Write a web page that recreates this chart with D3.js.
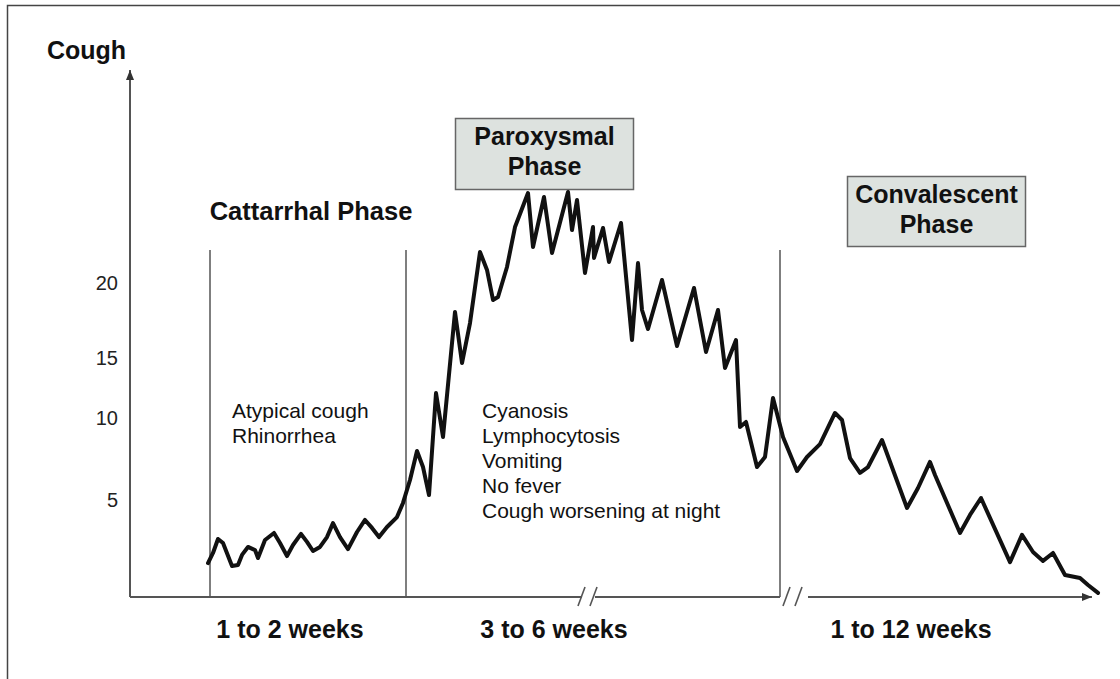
<!DOCTYPE html>
<html>
<head>
<meta charset="utf-8">
<script src="https://cdn.jsdelivr.net/npm/d3@7"></script>
<style>
  body { margin: 0; background: #fff; }
  svg { display: block; font-family: "Liberation Sans", Arial, Helvetica, sans-serif; }
</style>
</head>
<body>
<svg width="1120" height="679"></svg>
<script>
// time in arbitrary units along the (broken) x axis, cough intensity on y
const days = [78, 83, 88, 93, 102, 108, 112, 118, 125, 128, 135, 144, 150, 157, 163, 171, 177, 183, 190, 197,
  203, 210, 218, 227, 235, 242, 249, 257, 267, 273, 280, 287, 293, 299, 306, 313, 325, 332, 340, 350,
  357, 363, 368, 377, 385, 398, 403, 414, 422, 438, 442, 447, 455, 463, 464, 473, 479, 491, 502, 508,
  512, 518, 532, 547, 564, 576, 588, 595, 606, 610, 616, 627, 635, 643, 653, 667, 677, 690, 705, 712,
  720, 730, 738, 752, 777, 788, 800, 805, 830, 840, 851, 880, 892, 903, 913, 923, 935, 950, 958, 968]
const cough = [1.75, 2.27, 2.99, 2.78, 1.6, 1.65, 2.17, 2.58, 2.42, 2.01, 2.94, 3.3, 2.78, 2.11, 2.68, 3.25, 2.84, 2.37, 2.58, 3.09,
  3.81, 3.09, 2.47, 3.35, 3.97, 3.56, 3.09, 3.61, 4.12, 4.85, 6.22, 7.99, 7.01, 5.3, 12.08, 8.84, 18.07, 14.58, 17.33, 22.07,
  20.87, 18.87, 19.07, 21.07, 23.73, 26.0, 22.4, 25.73, 22.0, 26.07, 23.53, 25.53, 20.67, 23.73, 21.67, 23.67, 21.4, 24.0, 16.2, 21.33,
  18.2, 16.93, 20.2, 15.8, 19.67, 15.4, 18.2, 14.17, 16.2, 9.45, 9.76, 7.01, 7.62, 11.67, 8.84, 6.77, 7.62, 8.41, 10.42, 9.88,
  7.56, 6.65, 7.01, 8.66, 4.59, 5.73, 7.32, 6.52, 3.3, 4.23, 5.12, 1.8, 3.2, 2.32, 1.86, 2.27, 1.13, 0.98, 0.62, 0.21]

const yTicks = [5, 10, 15, 20]
const phaseBounds = [80, 276, 650]
const durationLabels = ["1 to 2 weeks", "3 to 6 weeks", "1 to 12 weeks"]
const durationPos = [160, 424, 781]
const breaks = [458, 663]
const symptoms = [
  ["Atypical cough", "Rhinorrhea"],
  ["Cyanosis", "Lymphocytosis", "Vomiting", "No fever", "Cough worsening at night"]
]
const symptomPos = [102, 352]

const svg = d3.select("svg")

// schematic axis: tick spacing is not even in the original, so piecewise scale
const x = d3.scaleLinear().domain([0, 960]).range([130, 1090])
const y = d3.scaleLinear().domain([0, 5, 10, 15, 20, 28]).range([597, 500, 418, 358, 283, 163])

// frame
svg.append("path")
  .attr("d", "M7.5,679 V5.5 H1120")
  .attr("fill", "none")
  .attr("stroke", "#444")
  .attr("stroke-width", 1.5)

// arrow heads
const defs = svg.append("defs")
defs.append("marker")
  .attr("id", "arrow")
  .attr("viewBox", "0 0 10 8")
  .attr("refX", 10).attr("refY", 4)
  .attr("markerWidth", 10).attr("markerHeight", 8)
  .attr("markerUnits", "userSpaceOnUse")
  .attr("orient", "auto")
  .append("path").attr("d", "M0,0 L10,4 L0,8 Z").attr("fill", "#333")

const axisColor = "#555"

// y axis
svg.append("line")
  .attr("x1", x(0)).attr("x2", x(0))
  .attr("y1", y(0)).attr("y2", 70)
  .attr("stroke", axisColor).attr("stroke-width", 2)
  .attr("marker-end", "url(#arrow)")

// x axis in pieces with break marks
const segs = [[0, breaks[0] - 6], [breaks[0] + 7, phaseBounds[2]], [breaks[1] + 15, 962]]
segs.forEach((s, i) => {
  svg.append("line")
    .attr("x1", x(s[0])).attr("x2", x(s[1]))
    .attr("y1", y(0)).attr("y2", y(0))
    .attr("stroke", axisColor).attr("stroke-width", 2)
    .attr("marker-end", i == 2 ? "url(#arrow)" : null)
})
breaks.forEach(b => {
  [0, 12].forEach(o => {
    svg.append("line")
      .attr("x1", x(b) + o - 10).attr("y1", y(0) + 9)
      .attr("x2", x(b) + o - 3).attr("y2", y(0) - 10)
      .attr("stroke", "#555").attr("stroke-width", 1.6)
  })
})

// phase separators
svg.selectAll(".sep")
  .data(phaseBounds)
  .join("line")
  .attr("class", "sep")
  .attr("x1", d => x(d)).attr("x2", d => x(d))
  .attr("y1", y(0)).attr("y2", 250)
  .attr("stroke", "#555").attr("stroke-width", 1.5)

// y tick labels
const yAxis = svg.append("g")
  .attr("transform", `translate(${x(0)},0)`)
  .call(d3.axisLeft(y).tickValues(yTicks).tickSize(0).tickPadding(12))
yAxis.select(".domain").remove()
yAxis.selectAll("text")
  .attr("font-size", 20)
  .attr("font-family", "Liberation Sans, Arial, sans-serif")
  .attr("fill", "#222")

svg.append("text")
  .attr("x", 47).attr("y", 59)
  .attr("font-size", 25).attr("font-weight", "bold")
  .attr("fill", "#111")
  .text("Cough")

// duration labels
svg.selectAll(".dur")
  .data(durationLabels)
  .join("text")
  .attr("class", "dur")
  .attr("x", (d, i) => x(durationPos[i]))
  .attr("y", 638)
  .attr("text-anchor", "middle")
  .attr("font-size", 25).attr("font-weight", "bold")
  .attr("fill", "#111")
  .text(d => d)

// symptoms
symptoms.forEach((lines, i) => {
  svg.append("text")
    .attr("font-size", 21)
    .attr("fill", "#111")
    .selectAll("tspan")
    .data(lines)
    .join("tspan")
    .attr("x", x(symptomPos[i]))
    .attr("y", (d, j) => 418 + j * 25)
    .text(d => d)
})

// phase titles
svg.append("text")
  .attr("x", 311).attr("y", 220)
  .attr("text-anchor", "middle")
  .attr("font-size", 25.5).attr("font-weight", "bold")
  .attr("fill", "#111")
  .text("Cattarrhal Phase")

function phaseBox(x0, y0, w, h, lines) {
  svg.append("rect")
    .attr("x", x0).attr("y", y0)
    .attr("width", w).attr("height", h)
    .attr("fill", "#dde2df")
    .attr("stroke", "#666").attr("stroke-width", 1.5)
  svg.append("text")
    .attr("text-anchor", "middle")
    .attr("font-size", 25).attr("font-weight", "bold")
    .attr("fill", "#111")
    .selectAll("tspan")
    .data(lines)
    .join("tspan")
    .attr("x", x0 + w / 2)
    .attr("y", (d, j) => y0 + h / 2 - 9 + j * 30)
    .text(d => d)
}
phaseBox(455.5, 118.5, 178, 71, ["Paroxysmal", "Phase"])
phaseBox(847.5, 176.5, 178, 70, ["Convalescent", "Phase"])

// cough curve
const line = d3.line()
  .x((d, i) => x(days[i]))
  .y(d => y(d))

svg.append("path")
  .datum(cough)
  .attr("d", line)
  .attr("fill", "none")
  .attr("stroke", "#111")
  .attr("stroke-width", 4)
  .attr("stroke-linejoin", "round")
  .attr("stroke-linecap", "round")
</script>
</body>
</html>
